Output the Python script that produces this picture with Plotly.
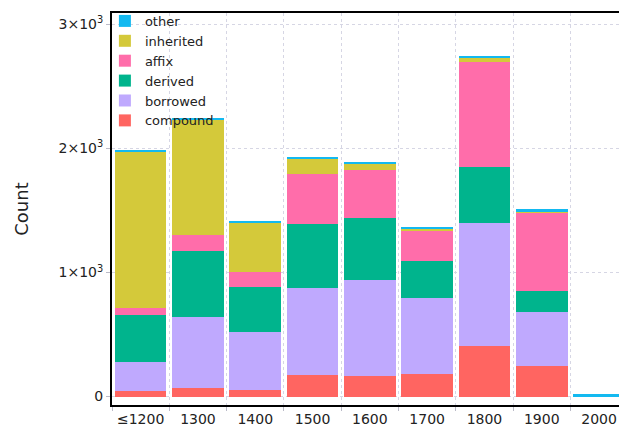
import plotly.graph_objects as go

categories = ["≤1200", "1300", "1400", "1500", "1600", "1700", "1800", "1900", "2000"]
compound  = [44, 68, 52, 173, 165, 181, 406, 245, 0]
borrowed  = [234, 572, 467, 700, 772, 611, 990, 435, 0]
derived   = [378, 531, 362, 515, 499, 298, 450, 169, 0]
affix     = [56, 128, 121, 402, 386, 241, 853, 638, 0]
inherited = [1257, 936, 404, 129, 54, 25, 30, 8, 0]
other     = [22, 8, 8, 8, 11, 8, 13, 13, 20]

series = [
    ("compound", compound, "#FF6561"),
    ("borrowed", borrowed, "#BFA9FE"),
    ("derived", derived, "#00B48D"),
    ("affix", affix, "#FF6DAA"),
    ("inherited", inherited, "#D4C93A"),
    ("other", other, "#13B9F0"),
]

fig = go.Figure()
for name, vals, col in series:
    fig.add_trace(go.Bar(x=categories, y=vals, name=name,
                         marker=dict(color=col, line=dict(width=0))))

grid = "#D6D6E4"
fig.update_layout(
    width=619, height=428,
    margin=dict(l=112, r=0, t=13, b=23),
    barmode="stack", bargap=0.1,
    paper_bgcolor="white", plot_bgcolor="white",
    font=dict(family="DejaVu Sans", size=14, color="#222"),
    legend=dict(x=-0.014, y=1.018, xanchor="left", yanchor="top",
                bgcolor="rgba(0,0,0,0)", font=dict(size=13),
                traceorder="reversed"),
    xaxis=dict(type="category", range=[-0.5, 8.348], tickson="boundaries",
               showgrid=True, gridcolor=grid, griddash="dot", gridwidth=1,
               ticks="outside", ticklen=4, tickcolor="#BBBBC8",
               showline=True, linecolor="black", linewidth=2, mirror=True,
               tickfont=dict(size=14)),
    yaxis=dict(range=[-68, 3091], tickvals=[0, 1000, 2000, 3000],
               exponentformat="power", showexponent="all", minexponent=0,
               showgrid=True, gridcolor=grid, griddash="dot", gridwidth=1,
               zeroline=False,
               ticks="outside", ticklen=4, tickcolor="#BBBBC8",
               showline=True, linecolor="black", linewidth=2, mirror=False,
               tickfont=dict(size=14),
               title=dict(text="Count", font=dict(size=18), standoff=25)),
)
fig.write_html("out.html", config={"displayModeBar": False},
               post_script="document.body.style.margin='0';document.body.style.overflow='hidden';")
